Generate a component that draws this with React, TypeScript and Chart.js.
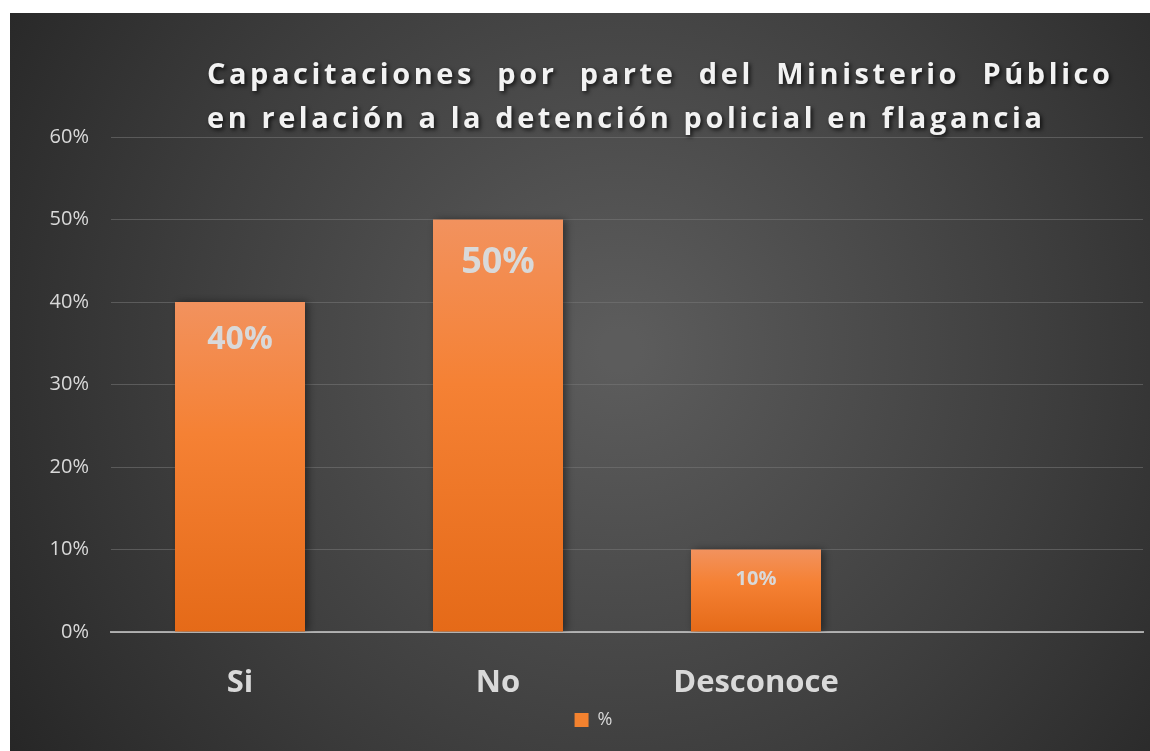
import { useEffect, useRef } from 'react';
import { Chart, registerables } from 'chart.js';

Chart.register(...registerables);

const categories = ['Si', 'No', 'Desconoce', ''];
const values: (number | null)[] = [0.4, 0.5, 0.1, null];
const valueLabels = ['40%', '50%', '10%', ''];
const seriesName = '%';
const yMin = 0;
const yMax = 0.6;
const yStep = 0.1;
const titleLines = [
  'Capacitaciones por parte del Ministerio Público',
  'en relación a la detención policial en flagancia',
];

const FONT = '"Open Sans", "DejaVu Sans", sans-serif';
const labelFontSizes = [32, 36, 20];
const labelOffsets = [38, 43, 30];

const backgroundPlugin = {
  id: 'bg',
  beforeDraw(chart: any) {
    const { ctx, width, height } = chart;
    ctx.save();
    ctx.fillStyle = '#ffffff';
    ctx.fillRect(0, 0, width, height);
    const g = ctx.createRadialGradient(620, 350, 20, 620, 350, 760);
    g.addColorStop(0, 'rgb(92,92,92)');
    g.addColorStop(0.55, 'rgb(62,62,62)');
    g.addColorStop(1, 'rgb(36,36,36)');
    ctx.fillStyle = g;
    ctx.fillRect(10, 13, width - 10, height - 13);
    ctx.restore();
  },
};

const legendShiftPlugin = {
  id: 'legendShift',
  afterLayout(chart: any) {
    if (chart.legend) {
      chart.legend.left += 17;
      chart.legend.right += 17;
    }
  },
};

function charsWidth(ctx: CanvasRenderingContext2D, s: string, ls: number) {
  let w = 0;
  for (const ch of s) w += ctx.measureText(ch).width + ls;
  return w - ls;
}
function drawChars(ctx: CanvasRenderingContext2D, s: string, x: number, y: number, ls: number) {
  for (const ch of s) {
    ctx.fillText(ch, x, y);
    x += ctx.measureText(ch).width + ls;
  }
  return x;
}

const titlePlugin = {
  id: 'justTitle',
  afterDraw(chart: any) {
    const ctx: CanvasRenderingContext2D = chart.ctx;
    ctx.save();
    ctx.font = `bold 29px ${FONT}`;
    ctx.fillStyle = '#f2f2f2';
    ctx.textBaseline = 'alphabetic';
    ctx.shadowColor = 'rgba(0,0,0,0.75)';
    ctx.shadowBlur = 4;
    ctx.shadowOffsetX = 2;
    ctx.shadowOffsetY = 2;
    const x0 = 207;
    const l2 = titleLines[1];
    const natural = charsWidth(ctx, l2, 0);
    const ls = (835 - natural) / (l2.length - 1);
    const words = titleLines[0].split(' ');
    const ww = words.map((w) => charsWidth(ctx, w, ls));
    const total = ww.reduce((a, b) => a + b, 0);
    const gap = (903 - total) / (words.length - 1);
    let x = x0;
    words.forEach((w, i) => {
      drawChars(ctx, w, x, 84, ls);
      x += ww[i] + gap;
    });
    drawChars(ctx, l2, x0, 128, ls);
    ctx.restore();
  },
};

const shadowPlugin = {
  id: 'barShadow',
  beforeDatasetsDraw(chart: any) {
    const ctx = chart.ctx;
    ctx.save();
    ctx.shadowColor = 'rgba(0,0,0,0.45)';
    ctx.shadowBlur = 8;
    ctx.shadowOffsetX = 3;
    ctx.shadowOffsetY = 0;
  },
  afterDatasetsDraw(chart: any) {
    const ctx = chart.ctx;
    ctx.restore();
    const meta = chart.getDatasetMeta(0);
    ctx.save();
    ctx.fillStyle = '#d9d9d9';
    ctx.textAlign = 'center';
    ctx.textBaseline = 'middle';
    meta.data.forEach((el: any, i: number) => {
      if (values[i] == null || !valueLabels[i]) return;
      ctx.font = `bold ${labelFontSizes[i]}px ${FONT}`;
      ctx.fillText(valueLabels[i], el.x, el.y + labelOffsets[i]);
    });
    ctx.restore();
  },
};

export default function App() {
  const ref = useRef<HTMLCanvasElement | null>(null);
  useEffect(() => {
    if (!ref.current) return;
    Chart.defaults.font.family = FONT;
    const chart = new Chart(ref.current, {
      type: 'bar',
      data: {
        labels: categories,
        datasets: [
          {
            label: seriesName,
            data: values,
            categoryPercentage: 1,
            barPercentage: 130 / 258,
            borderWidth: 0,
            backgroundColor: (c: any) => {
              const ch = c.chart;
              const ys = ch.scales && ch.scales.y;
              if (c.type !== 'data' || !ys || c.raw == null) return '#f3822f';
              const top = ys.getPixelForValue(c.raw);
              const base = ys.getPixelForValue(0);
              if (!isFinite(top) || !isFinite(base) || top === base) return '#f3822f';
              const g = ch.ctx.createLinearGradient(0, top, 0, base);
              g.addColorStop(0, 'rgb(242,146,94)');
              g.addColorStop(0.4, 'rgb(245,129,52)');
              g.addColorStop(1, 'rgb(229,106,24)');
              return g;
            },
          },
        ],
      },
      options: {
        animation: false,
        responsive: false,
        devicePixelRatio: 1,
        layout: { padding: { left: 10, right: 7, top: 137, bottom: 12 } },
        plugins: {
          title: { display: false },
          tooltip: { enabled: false },
          legend: {
            display: true,
            position: 'bottom',
            labels: {
              boxWidth: 14,
              boxHeight: 14,
              padding: 10,
              color: '#d9d9d9',
              font: { size: 18, family: FONT },
              generateLabels: () => [
                {
                  text: seriesName,
                  fillStyle: '#f3822f',
                  strokeStyle: 'rgba(0,0,0,0)',
                  fontColor: '#d9d9d9',
                  lineWidth: 0,
                  hidden: false,
                  datasetIndex: 0,
                },
              ],
            },
          },
        },
        scales: {
          x: {
            z: 1,
            grid: { display: false, drawTicks: false },
            border: { display: true, color: 'rgba(205,205,205,0.75)', width: 2 },
            ticks: {
              color: '#d9d9d9',
              padding: 33,
              font: { size: 31, weight: 'bold', family: FONT },
              maxRotation: 0,
              autoSkip: false,
            },
            afterFit: (s: any) => {
              s.height = 69;
            },
          },
          y: {
            min: yMin,
            max: yMax,
            grid: { color: 'rgba(120,120,120,0.55)', lineWidth: 1, drawTicks: false },
            border: { display: false },
            ticks: {
              stepSize: yStep,
              color: '#d9d9d9',
              padding: 22,
              font: { size: 20, family: FONT },
              callback: (v: any) => `${Math.round(Number(v) * 100)}%`,
            },
            afterFit: (s: any) => {
              s.width = 101;
            },
          },
        },
      },
      plugins: [backgroundPlugin, legendShiftPlugin, shadowPlugin, titlePlugin],
    } as any);
    return () => chart.destroy();
  }, []);
  return (
    <div style={{ position: 'absolute', left: 0, top: 0, width: 1150, height: 751 }}>
      <canvas ref={ref} width={1150} height={751} style={{ display: 'block' }} />
    </div>
  );
}
